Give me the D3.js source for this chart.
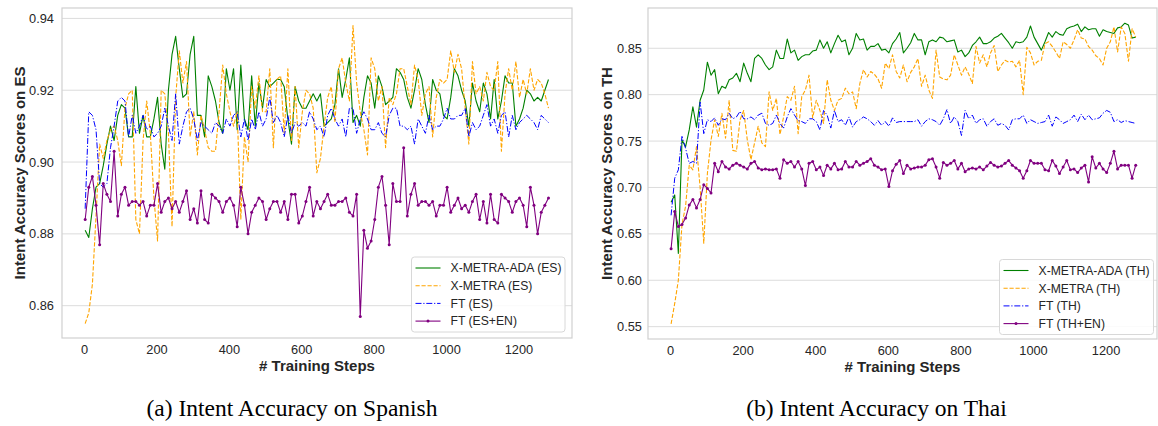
<!DOCTYPE html>
<html>
<head>
<meta charset="utf-8">
<script src="https://cdn.jsdelivr.net/npm/d3@7"></script>
<style>
  body { margin: 0; background: #fff; }
  svg { display: block; }
</style>
</head>
<body>
<script>
const width = 1158;
const height = 426;

// training steps logged every 10 steps
const steps = d3.range(3, 1284, 10);

// ---- Spanish (ES) ----
const esAda = [
  0.881, 0.879, 0.887, 0.893, 0.894, 0.899, 0.905, 0.910, 0.906, 0.913,
  0.916, 0.915, 0.907, 0.907, 0.921, 0.908, 0.913, 0.907, 0.907, 0.912,
  0.918, 0.905, 0.898, 0.920, 0.930, 0.935, 0.926, 0.918, 0.919, 0.930,
  0.935, 0.913, 0.913, 0.907, 0.924, 0.921, 0.917, 0.911, 0.908, 0.926,
  0.920, 0.926, 0.909, 0.927, 0.912, 0.909, 0.924, 0.910, 0.922, 0.915,
  0.923, 0.921, 0.922, 0.923, 0.923, 0.921, 0.912, 0.905, 0.921, 0.917,
  0.915, 0.915, 0.917, 0.919, 0.917, 0.919, 0.910, 0.911, 0.912, 0.916,
  0.926, 0.918, 0.923, 0.929, 0.911, 0.913, 0.910, 0.918, 0.924, 0.922,
  0.915, 0.924, 0.921, 0.916, 0.917, 0.918, 0.926, 0.925, 0.923, 0.918,
  0.915, 0.920, 0.926, 0.923, 0.916, 0.911, 0.923, 0.920, 0.919, 0.913,
  0.912, 0.918, 0.926, 0.924, 0.920, 0.917, 0.910, 0.922, 0.917, 0.914,
  0.922, 0.919, 0.912, 0.923, 0.912, 0.917, 0.924, 0.922, 0.922, 0.910,
  0.912, 0.915, 0.920, 0.919, 0.917, 0.918, 0.917, 0.920, 0.923
];
const esMetra = [
  0.855, 0.858, 0.866, 0.885, 0.905, 0.901, 0.906, 0.909, 0.910, 0.906,
  0.899, 0.915, 0.919, 0.920, 0.884, 0.880, 0.906, 0.917, 0.908, 0.890,
  0.878, 0.920, 0.919, 0.908, 0.882, 0.918, 0.931, 0.922, 0.928, 0.907,
  0.914, 0.902, 0.913, 0.909, 0.904, 0.903, 0.903, 0.914, 0.927, 0.919,
  0.914, 0.910, 0.914, 0.884, 0.907, 0.900, 0.921, 0.915, 0.924, 0.914,
  0.914, 0.926, 0.904, 0.923, 0.924, 0.908, 0.926, 0.906, 0.921, 0.904,
  0.914, 0.920, 0.919, 0.915, 0.897, 0.901, 0.910, 0.918, 0.921, 0.911,
  0.926, 0.929, 0.922, 0.917, 0.938, 0.922, 0.914, 0.909, 0.902, 0.929,
  0.926, 0.917, 0.921, 0.904, 0.918, 0.916, 0.919, 0.926, 0.926, 0.921,
  0.916, 0.927, 0.923, 0.913, 0.919, 0.921, 0.907, 0.918, 0.923, 0.922,
  0.923, 0.931, 0.925, 0.930, 0.926, 0.915, 0.905, 0.928, 0.919, 0.921,
  0.917, 0.925, 0.921, 0.920, 0.928, 0.903, 0.919, 0.926, 0.920, 0.928,
  0.918, 0.923, 0.919, 0.926, 0.920, 0.923, 0.922, 0.919, 0.915
];
const esFt = [
  0.887, 0.914, 0.913, 0.909, 0.894, 0.893, 0.894, 0.904, 0.910, 0.917,
  0.918, 0.917, 0.907, 0.913, 0.908, 0.910, 0.913, 0.909, 0.910, 0.907,
  0.908, 0.910, 0.915, 0.910, 0.906, 0.919, 0.905, 0.910, 0.914, 0.915,
  0.912, 0.906, 0.911, 0.910, 0.909, 0.908, 0.911, 0.910, 0.908, 0.912,
  0.910, 0.913, 0.914, 0.907, 0.912, 0.906, 0.912, 0.909, 0.914, 0.910,
  0.912, 0.918, 0.911, 0.913, 0.911, 0.907, 0.913, 0.908, 0.911, 0.910,
  0.911, 0.910, 0.914, 0.912, 0.909, 0.910, 0.907, 0.913, 0.915, 0.912,
  0.910, 0.912, 0.907, 0.915, 0.915, 0.908, 0.912, 0.914, 0.912, 0.909,
  0.909, 0.911, 0.908, 0.907, 0.913, 0.915, 0.915, 0.910, 0.910, 0.909,
  0.910, 0.905, 0.912, 0.910, 0.908, 0.913, 0.909, 0.910, 0.910, 0.912,
  0.915, 0.912, 0.912, 0.913, 0.913, 0.915, 0.907, 0.911, 0.909, 0.910,
  0.913, 0.916, 0.910, 0.912, 0.908, 0.913, 0.914, 0.907, 0.913, 0.909,
  0.911, 0.912, 0.913, 0.912, 0.911, 0.909, 0.913, 0.912, 0.911
];
const esFtEn = [
  0.884, 0.893, 0.896, 0.888, 0.877, 0.894, 0.891, 0.889, 0.903, 0.885,
  0.891, 0.893, 0.888, 0.889, 0.889, 0.888, 0.889, 0.885, 0.888, 0.888,
  0.894, 0.886, 0.889, 0.890, 0.887, 0.889, 0.886, 0.889, 0.892, 0.884,
  0.887, 0.883, 0.892, 0.884, 0.883, 0.891, 0.890, 0.889, 0.886, 0.889,
  0.890, 0.888, 0.882, 0.893, 0.888, 0.880, 0.886, 0.888, 0.890, 0.889,
  0.884, 0.887, 0.889, 0.889, 0.886, 0.889, 0.884, 0.891, 0.891, 0.883,
  0.885, 0.889, 0.893, 0.885, 0.889, 0.887, 0.889, 0.891, 0.888, 0.888,
  0.889, 0.889, 0.890, 0.886, 0.885, 0.891, 0.857, 0.881, 0.876, 0.878,
  0.884, 0.893, 0.896, 0.888, 0.877, 0.894, 0.889, 0.889, 0.904, 0.885,
  0.891, 0.894, 0.888, 0.889, 0.889, 0.888, 0.889, 0.885, 0.888, 0.888,
  0.893, 0.886, 0.888, 0.890, 0.887, 0.888, 0.886, 0.889, 0.891, 0.884,
  0.889, 0.883, 0.891, 0.884, 0.883, 0.891, 0.890, 0.889, 0.886, 0.889,
  0.890, 0.888, 0.882, 0.893, 0.888, 0.880, 0.886, 0.888, 0.890
];

// ---- Thai (TH) ----
const thAda = [
  0.684, 0.692, 0.629, 0.751, 0.744, 0.762, 0.787, 0.765, 0.794, 0.805,
  0.835, 0.821, 0.827, 0.801, 0.809, 0.807, 0.816, 0.818, 0.823, 0.814,
  0.834, 0.823, 0.814, 0.839, 0.843, 0.839, 0.832, 0.827, 0.830, 0.848,
  0.839, 0.839, 0.860, 0.845, 0.848, 0.837, 0.841, 0.843, 0.843, 0.847,
  0.848, 0.859, 0.850, 0.857, 0.845, 0.855, 0.864, 0.857, 0.859, 0.843,
  0.850, 0.866, 0.859, 0.860, 0.848, 0.852, 0.852, 0.855, 0.848, 0.849,
  0.845, 0.855, 0.860, 0.867, 0.845, 0.850, 0.856, 0.866, 0.859, 0.859,
  0.843, 0.857, 0.859, 0.857, 0.862, 0.861, 0.857, 0.858, 0.859, 0.846,
  0.848, 0.841, 0.845, 0.853, 0.857, 0.862, 0.855, 0.855, 0.857, 0.861,
  0.863, 0.866, 0.861, 0.856, 0.850, 0.857, 0.856, 0.857, 0.862, 0.874,
  0.862, 0.855, 0.848, 0.857, 0.867, 0.862, 0.868, 0.865, 0.864, 0.871,
  0.873, 0.874, 0.876, 0.868, 0.873, 0.870, 0.871, 0.871, 0.863, 0.870,
  0.868, 0.867, 0.866, 0.872, 0.873, 0.877, 0.875, 0.861, 0.862
];
const thMetra = [
  0.553, 0.575, 0.600, 0.660, 0.680, 0.724, 0.719, 0.744, 0.700, 0.640,
  0.715, 0.751, 0.773, 0.755, 0.780, 0.753, 0.794, 0.740, 0.739, 0.773,
  0.783, 0.751, 0.730, 0.748, 0.766, 0.748, 0.744, 0.803, 0.783, 0.796,
  0.757, 0.776, 0.798, 0.794, 0.809, 0.758, 0.798, 0.805, 0.821, 0.775,
  0.794, 0.783, 0.769, 0.816, 0.794, 0.783, 0.794, 0.796, 0.807, 0.801,
  0.803, 0.785, 0.812, 0.827, 0.819, 0.825, 0.822, 0.817, 0.807, 0.834,
  0.828, 0.843, 0.825, 0.818, 0.832, 0.814, 0.824, 0.830, 0.839, 0.809,
  0.821, 0.805, 0.796, 0.848, 0.819, 0.817, 0.816, 0.821, 0.843, 0.832,
  0.821, 0.830, 0.822, 0.812, 0.852, 0.834, 0.843, 0.830, 0.845, 0.853,
  0.825, 0.832, 0.837, 0.835, 0.836, 0.830, 0.837, 0.800, 0.851, 0.845,
  0.832, 0.836, 0.837, 0.855, 0.857, 0.852, 0.846, 0.839, 0.857, 0.854,
  0.850, 0.859, 0.870, 0.861, 0.860, 0.852, 0.848, 0.842, 0.839, 0.832,
  0.850, 0.857, 0.873, 0.846, 0.873, 0.866, 0.836, 0.871, 0.862
];
const thFt = [
  0.670, 0.710, 0.719, 0.755, 0.742, 0.726, 0.728, 0.726, 0.792, 0.758,
  0.773, 0.771, 0.775, 0.767, 0.774, 0.773, 0.780, 0.774, 0.776, 0.782,
  0.774, 0.774, 0.776, 0.773, 0.778, 0.780, 0.769, 0.767, 0.769, 0.778,
  0.769, 0.764, 0.776, 0.785, 0.778, 0.772, 0.771, 0.769, 0.774, 0.774,
  0.771, 0.762, 0.783, 0.778, 0.764, 0.783, 0.771, 0.773, 0.767, 0.776,
  0.765, 0.771, 0.773, 0.776, 0.774, 0.771, 0.767, 0.772, 0.767, 0.771,
  0.766, 0.775, 0.770, 0.771, 0.771, 0.771, 0.771, 0.771, 0.773, 0.766,
  0.771, 0.774, 0.773, 0.771, 0.767, 0.774, 0.784, 0.769, 0.776, 0.771,
  0.756, 0.783, 0.774, 0.778, 0.769, 0.773, 0.774, 0.766, 0.771, 0.774,
  0.767, 0.769, 0.767, 0.762, 0.773, 0.774, 0.774, 0.778, 0.769, 0.773,
  0.771, 0.769, 0.770, 0.771, 0.778, 0.766, 0.776, 0.773, 0.769, 0.771,
  0.773, 0.778, 0.771, 0.779, 0.773, 0.778, 0.773, 0.774, 0.775, 0.780,
  0.783, 0.781, 0.771, 0.773, 0.770, 0.772, 0.771, 0.770, 0.769
];
const thFtEn = [
  0.634, 0.674, 0.658, 0.660, 0.667, 0.681, 0.687, 0.678, 0.687, 0.703,
  0.699, 0.694, 0.726, 0.717, 0.728, 0.722, 0.720, 0.724, 0.726, 0.724,
  0.722, 0.720, 0.726, 0.728, 0.721, 0.719, 0.720, 0.719, 0.719, 0.720,
  0.710, 0.730, 0.726, 0.728, 0.722, 0.728, 0.720, 0.702, 0.726, 0.728,
  0.719, 0.722, 0.713, 0.724, 0.720, 0.726, 0.719, 0.720, 0.728, 0.722,
  0.722, 0.728, 0.724, 0.726, 0.728, 0.731, 0.724, 0.722, 0.719, 0.720,
  0.701, 0.718, 0.725, 0.729, 0.715, 0.724, 0.720, 0.721, 0.722, 0.722,
  0.724, 0.730, 0.731, 0.722, 0.710, 0.727, 0.724, 0.726, 0.729, 0.720,
  0.726, 0.717, 0.720, 0.721, 0.720, 0.722, 0.719, 0.723, 0.727, 0.724,
  0.722, 0.723, 0.726, 0.729, 0.724, 0.721, 0.718, 0.710, 0.718, 0.729,
  0.726, 0.726, 0.726, 0.719, 0.718, 0.729, 0.723, 0.715, 0.722, 0.729,
  0.719, 0.720, 0.716, 0.721, 0.724, 0.706, 0.733, 0.721, 0.726, 0.720,
  0.716, 0.726, 0.739, 0.720, 0.724, 0.724, 0.724, 0.710, 0.724
];

const xTicks = [0, 200, 400, 600, 800, 1000, 1200];
const esTicks = [0.86, 0.88, 0.90, 0.92, 0.94];
const thTicks = [0.55, 0.60, 0.65, 0.70, 0.75, 0.80, 0.85];

const svg = d3.select('body')
  .append('svg')
  .attr('width', width)
  .attr('height', height);

const styles = [
  {color: 'green',  width: 1.1, dash: null,            marker: false},
  {color: 'orange', width: 1.1, dash: '4.2,1.8',       marker: false},
  {color: 'blue',   width: 1.0, dash: '6,1.8,1.2,1.8', marker: false},
  {color: 'purple', width: 1.1, dash: null,            marker: true}
];

function drawPanel(cfg) {
  const x = d3.scaleLinear().domain(cfg.xDomain).range([cfg.left, cfg.right]);
  const y = d3.scaleLinear().domain(cfg.yDomain).range([cfg.bottom, cfg.top]);
  const g = svg.append('g');

  // grid
  g.append('g').selectAll('line.h')
    .data(cfg.yTicks).enter().append('line')
    .attr('x1', cfg.left).attr('x2', cfg.right)
    .attr('y1', d => y(d)).attr('y2', d => y(d))
    .attr('stroke', '#dcdcdc').attr('stroke-width', 1);

  // frame
  g.append('rect')
    .attr('x', cfg.left).attr('y', cfg.top)
    .attr('width', cfg.right - cfg.left).attr('height', cfg.bottom - cfg.top)
    .attr('fill', 'none').attr('stroke', '#d0d0d0').attr('stroke-width', 1.2);

  // axes (tick labels only, seaborn style)
  const yAxis = d3.axisLeft(y).tickValues(cfg.yTicks).tickFormat(d3.format('.2f'))
    .tickSize(0).tickPadding(cfg.yPad);
  g.append('g').attr('transform', `translate(${cfg.left},0)`).call(yAxis)
    .call(a => a.select('.domain').remove())
    .selectAll('text').attr('font-family', 'Liberation Sans, Arial, sans-serif')
    .attr('font-size', '12.8px').attr('fill', '#262626');

  const xAxis = d3.axisBottom(x).tickValues(xTicks).tickFormat(d3.format('d'))
    .tickSize(0).tickPadding(7);
  g.append('g').attr('transform', `translate(0,${cfg.bottom})`).call(xAxis)
    .call(a => a.select('.domain').remove())
    .selectAll('text').attr('font-family', 'Liberation Sans, Arial, sans-serif')
    .attr('font-size', '12.8px').attr('fill', '#262626');

  // labels
  g.append('text')
    .attr('x', (cfg.left + cfg.right) / 2).attr('y', cfg.bottom + 33)
    .attr('text-anchor', 'middle')
    .attr('font-family', 'Liberation Sans, Arial, sans-serif')
    .attr('font-size', '15px').attr('font-weight', 'bold').attr('fill', '#262626')
    .text('# Training Steps');

  g.append('text')
    .attr('transform', `translate(${cfg.yLabelX},${(cfg.top + cfg.bottom) / 2}) rotate(-90)`)
    .attr('text-anchor', 'middle')
    .attr('font-family', 'Liberation Sans, Arial, sans-serif')
    .attr('font-size', '15px').attr('font-weight', 'bold').attr('fill', '#262626')
    .text(cfg.yLabel);

  // series
  const line = d3.line()
    .x((d, i) => x(steps[i]))
    .y(d => y(d));

  cfg.series.forEach((s, k) => {
    const st = styles[k];
    g.append('path')
      .datum(s)
      .attr('d', line)
      .attr('fill', 'none')
      .attr('stroke', st.color)
      .attr('stroke-width', st.width)
      .attr('stroke-dasharray', st.dash)
      .attr('stroke-linejoin', 'round');
    if (st.marker) {
      g.append('g').selectAll('circle')
        .data(s).enter().append('circle')
        .attr('cx', (d, i) => x(steps[i]))
        .attr('cy', d => y(d))
        .attr('r', 1.5)
        .attr('fill', st.color);
    }
  });

  // legend
  const lg = g.append('g').attr('transform', `translate(${cfg.legX},${cfg.legY})`);
  lg.append('rect')
    .attr('width', cfg.legW).attr('height', 75)
    .attr('rx', 3)
    .attr('fill', '#fff').attr('fill-opacity', 0.85)
    .attr('stroke', '#d8d8d8');
  cfg.names.forEach((name, k) => {
    const st = styles[k];
    const cy = 11 + k * 17.7;
    lg.append('line')
      .attr('x1', 4).attr('x2', 29).attr('y1', cy).attr('y2', cy)
      .attr('stroke', st.color).attr('stroke-width', st.width)
      .attr('stroke-dasharray', st.dash);
    if (st.marker) {
      lg.append('circle').attr('cx', 16.5).attr('cy', cy).attr('r', 1.5).attr('fill', st.color);
    }
    lg.append('text')
      .attr('x', 39).attr('y', cy + 4.3)
      .attr('font-family', 'Liberation Sans, Arial, sans-serif')
      .attr('font-size', '12.2px').attr('fill', '#262626')
      .text(name);
  });

  // caption
  svg.append('text')
    .attr('x', cfg.capX).attr('y', 416)
    .attr('text-anchor', 'middle')
    .attr('font-family', 'Liberation Serif, Times New Roman, serif')
    .attr('font-size', '23.5px').attr('fill', '#000')
    .text(cfg.caption);
}

drawPanel({
  left: 62, right: 572, top: 8, bottom: 338,
  xDomain: [-61, 1348], yDomain: [0.8510, 0.9429],
  yTicks: esTicks, yPad: 8, yLabelX: 25,
  yLabel: 'Intent Accuracy Scores on ES',
  series: [esAda, esMetra, esFt, esFtEn],
  names: ['X-METRA-ADA (ES)', 'X-METRA (ES)', 'FT (ES)', 'FT (ES+EN)'],
  legX: 411.5, legY: 257, legW: 153.5,
  capX: 292, caption: '(a) Intent Accuracy on Spanish'
});

drawPanel({
  left: 648, right: 1157, top: 8, bottom: 339,
  xDomain: [-60.6, 1341.6], yDomain: [0.5367, 0.8934],
  yTicks: thTicks, yPad: 6, yLabelX: 612,
  yLabel: 'Intent Accuracy Scores on TH',
  series: [thAda, thMetra, thFt, thFtEn],
  names: ['X-METRA-ADA (TH)', 'X-METRA (TH)', 'FT (TH)', 'FT (TH+EN)'],
  legX: 999.5, legY: 259.5, legW: 154,
  capX: 876.5, caption: '(b) Intent Accuracy on Thai'
});
</script>
</body>
</html>
